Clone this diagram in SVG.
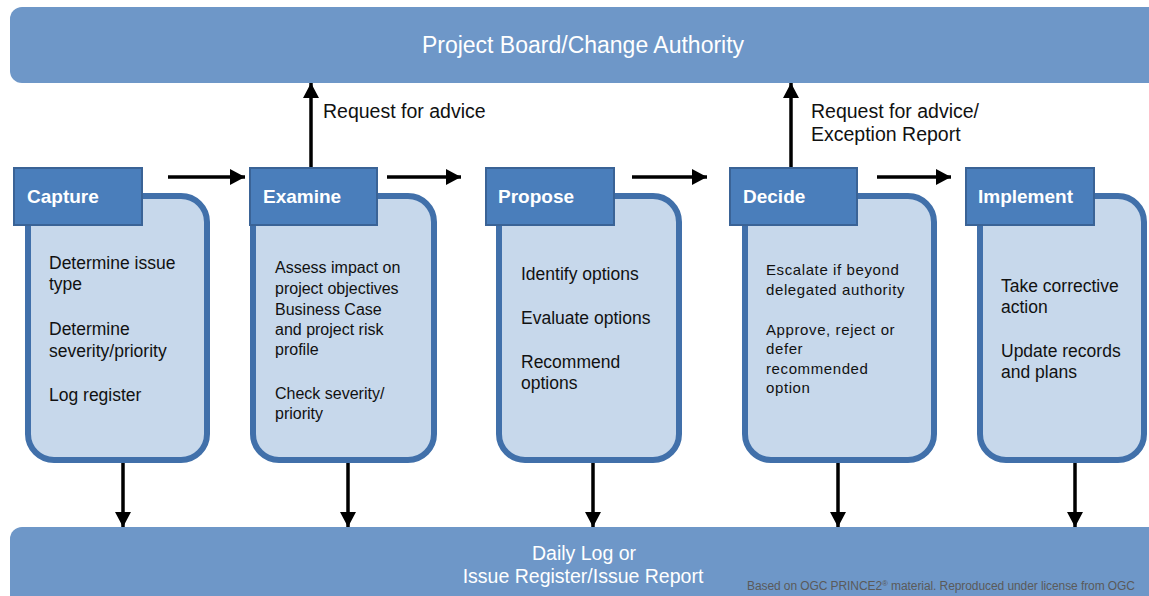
<svg xmlns="http://www.w3.org/2000/svg" width="1149" height="596" viewBox="0 0 1149 596">
<style>
.bar{fill:#6E97C8}
.hdr{fill:#4A7EBB;stroke:#3A6396;stroke-width:2}
.body{fill:#C7D8EB;stroke:#4170AA;stroke-width:6}
.ht{font-family:"Liberation Sans",Arial,sans-serif;font-weight:bold;font-size:19px;fill:#FFFFFF}
.bt{font-family:"Liberation Sans",Arial,sans-serif;font-size:17.5px;fill:#111111}
.st{font-family:"Liberation Sans",Arial,sans-serif;font-size:16px;fill:#111111}
.dt{font-family:"Liberation Sans",Arial,sans-serif;font-size:15px;fill:#111111;letter-spacing:0.6px}
.lab{font-family:"Liberation Sans",Arial,sans-serif;font-size:19.5px;fill:#111111}
.wt{font-family:"Liberation Sans",Arial,sans-serif;fill:#FFFFFF}
.conn line{stroke:#000000;stroke-width:3.5;marker-end:url(#ah)}
</style>
<defs>
<marker id="ah" markerUnits="userSpaceOnUse" markerWidth="16" markerHeight="16" viewBox="0 0 16 16" refX="15" refY="8" orient="auto">
<path d="M0,0 L15,8 L0,16 Z" fill="#000000"/>
</marker>
</defs>
<g id="board">
<rect class="bar" x="10" y="7" width="1160" height="76" rx="12"/>
<text class="wt" x="583" y="53" font-size="23" text-anchor="middle">Project Board/Change Authority</text>
</g>
<g id="log">
<rect class="bar" x="10" y="527" width="1160" height="90" rx="12"/>
<text class="wt" x="584" y="560" font-size="19.5" text-anchor="middle">Daily Log or</text>
<text class="wt" x="583" y="583" font-size="19.5" text-anchor="middle">Issue Register/Issue Report</text>
<text x="747" y="590" font-family="'Liberation Sans',Arial,sans-serif" font-size="12" fill="#5A5A5A" textLength="388">Based on OGC PRINCE2<tspan font-size="8" dy="-4">®</tspan><tspan dy="4"> material. Reproduced under license from OGC</tspan></text>
</g>
<g id="capture">
<rect class="body" x="28" y="196" width="179" height="264" rx="26"/>
<rect class="hdr" x="14" y="168" width="128" height="57"/>
<text class="ht" x="27" y="203">Capture</text>
<text class="bt" x="49" y="269">Determine issue</text>
<text class="bt" x="49" y="290">type</text>
<text class="bt" x="49" y="335">Determine</text>
<text class="bt" x="49" y="357">severity/priority</text>
<text class="bt" x="49" y="401">Log register</text>
</g>
<g id="examine">
<rect class="body" x="253" y="196" width="181" height="264" rx="26"/>
<rect class="hdr" x="250" y="168" width="127" height="57"/>
<text class="ht" x="263" y="203">Examine</text>
<text class="st" x="275" y="273">Assess impact on</text>
<text class="st" x="275" y="294">project objectives</text>
<text class="st" x="275" y="315">Business Case</text>
<text class="st" x="275" y="335">and project risk</text>
<text class="st" x="275" y="355">profile</text>
<text class="st" x="275" y="399">Check severity/</text>
<text class="st" x="275" y="419">priority</text>
</g>
<g id="propose">
<rect class="body" x="499" y="196" width="180" height="264" rx="26"/>
<rect class="hdr" x="486" y="168" width="128" height="57"/>
<text class="ht" x="498" y="203">Propose</text>
<text class="bt" x="521" y="280">Identify options</text>
<text class="bt" x="521" y="324">Evaluate options</text>
<text class="bt" x="521" y="368">Recommend</text>
<text class="bt" x="521" y="389">options</text>
</g>
<g id="decide">
<rect class="body" x="745" y="196" width="189" height="264" rx="26"/>
<rect class="hdr" x="730" y="168" width="127" height="57"/>
<text class="ht" x="743" y="203">Decide</text>
<text class="dt" x="766" y="275">Escalate if beyond</text>
<text class="dt" x="766" y="295">delegated authority</text>
<text class="dt" x="766" y="335">Approve, reject or</text>
<text class="dt" x="766" y="354">defer</text>
<text class="dt" x="766" y="374">recommended</text>
<text class="dt" x="766" y="393">option</text>
</g>
<g id="implement">
<rect class="body" x="980" y="196" width="164" height="264" rx="26"/>
<rect class="hdr" x="966" y="168" width="128" height="57"/>
<text class="ht" x="978" y="203">Implement</text>
<text class="bt" x="1001" y="292">Take corrective</text>
<text class="bt" x="1001" y="313">action</text>
<text class="bt" x="1001" y="357">Update records</text>
<text class="bt" x="1001" y="378">and plans</text>
</g>
<g id="connectors" class="conn">
<line x1="168" y1="177" x2="245" y2="177"/>
<line x1="387" y1="177" x2="461" y2="177"/>
<line x1="632" y1="177" x2="707" y2="177"/>
<line x1="877" y1="177" x2="951" y2="177"/>
<line x1="311" y1="167" x2="311" y2="83"/>
<line x1="791" y1="167" x2="791" y2="83"/>
<line x1="123" y1="463" x2="123" y2="527"/>
<line x1="348" y1="463" x2="348" y2="527"/>
<line x1="593" y1="463" x2="593" y2="527"/>
<line x1="838" y1="463" x2="838" y2="527"/>
<line x1="1075" y1="463" x2="1075" y2="527"/>
</g>
<g id="labels">
<text class="lab" x="323" y="118">Request for advice</text>
<text class="lab" x="811" y="118">Request for advice/</text>
<text class="lab" x="811" y="141">Exception Report</text>
</g>
</svg>
